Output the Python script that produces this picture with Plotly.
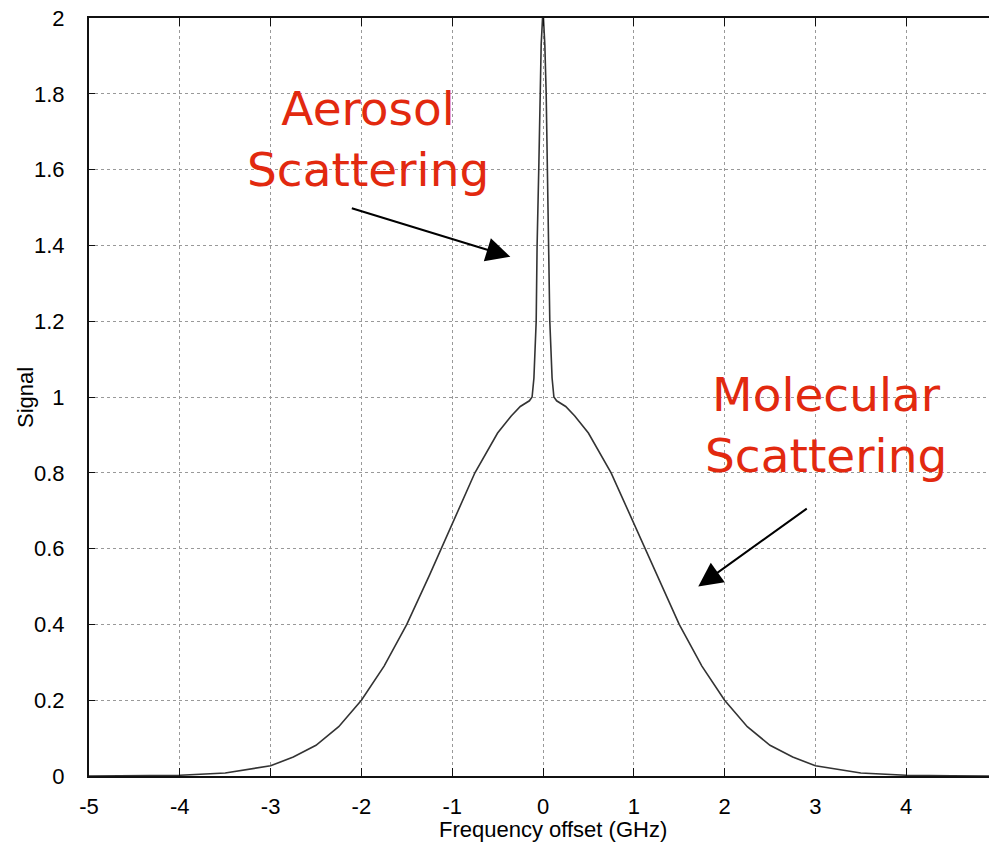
import plotly.graph_objects as go

# Frequency offset (GHz) and signal
freq_ghz = [-5.0, -4.5, -4.0, -3.5, -3.0, -2.75, -2.5, -2.25, -2.0, -1.75, -1.5, -1.25,
            -1.0, -0.75, -0.5, -0.35, -0.25, -0.15, -0.12, -0.10, -0.075, -0.065, -0.045,
            -0.035, -0.02, -0.005, 0.0,
            0.005, 0.02, 0.035, 0.045, 0.065, 0.075, 0.10, 0.12, 0.15, 0.25, 0.35, 0.5,
            0.75, 1.0, 1.25, 1.5, 1.75, 2.0, 2.25, 2.5, 2.75, 3.0, 3.5, 4.0, 4.5, 5.0]
signal = [0.0, 0.0005, 0.002, 0.008, 0.027, 0.05, 0.081, 0.13, 0.20, 0.29, 0.40, 0.53,
          0.667, 0.80, 0.905, 0.95, 0.975, 0.99, 1.0, 1.05, 1.20, 1.40, 1.62,
          1.80, 1.93, 2.0, 2.02,
          2.0, 1.93, 1.80, 1.62, 1.40, 1.20, 1.05, 1.0, 0.99, 0.975, 0.95, 0.905,
          0.80, 0.667, 0.53, 0.40, 0.29, 0.20, 0.13, 0.081, 0.05, 0.027, 0.008, 0.002, 0.0005, 0.0]

x_ticks = [-5, -4, -3, -2, -1, 0, 1, 2, 3, 4, 5]
x_tick_labels = ["-5", "-4", "-3", "-2", "-1", "0", "1", "2", "3", "4", "5"]
y_ticks = [0, 0.2, 0.4, 0.6, 0.8, 1.0, 1.2, 1.4, 1.6, 1.8, 2.0]
y_tick_labels = ["0", "0.2", "0.4", "0.6", "0.8", "1", "1.2", "1.4", "1.6", "1.8", "2"]

RED = "#e2290f"
TICK_FONT = dict(family="Liberation Sans, Arial, sans-serif", size=22, color="#000")
TITLE_FONT = dict(family="Liberation Sans, Arial, sans-serif", size=22, color="#000")
ANN_FONT = dict(family="Comic Sans MS, DejaVu Sans, sans-serif", size=47, color=RED)

fig = go.Figure()
fig.add_trace(go.Scatter(x=freq_ghz, y=signal, mode="lines",
                         line=dict(color="#333", width=1.6), showlegend=False,
                         hoverinfo="skip"))

# page body adds an 8px offset, so the figure is 8px smaller on each side
fig.update_layout(
    width=989, height=838,
    margin=dict(l=81, r=0, t=10, b=70, autoexpand=False),
    paper_bgcolor="white", plot_bgcolor="white",
    xaxis=dict(range=[-5, 5], tickvals=x_ticks, ticktext=x_tick_labels,
               ticks="inside", ticklen=8,
               tickcolor="#111", showline=True, linecolor="#111", linewidth=2,
               mirror="ticks", showgrid=True, gridcolor="#999", griddash="dot",
               gridwidth=1, zeroline=False, tickfont=TICK_FONT,
               ticklabelstandoff=10, automargin=False, ticklabeloverflow="allow"),
    yaxis=dict(range=[0, 2], tickvals=y_ticks, ticktext=y_tick_labels,
               ticks="inside", ticklen=6, tickcolor="#111",
               showline=True, linecolor="#111", linewidth=2,
               showgrid=True, gridcolor="#999", griddash="dot", gridwidth=1,
               zeroline=False, tickfont=TICK_FONT, ticklabelstandoff=18,
               automargin=False, ticklabeloverflow="allow"),
)

# Axis titles
fig.add_annotation(x=0.511, y=-0.07, xref="paper", yref="paper",
                   text="Frequency offset (GHz)", showarrow=False,
                   font=TITLE_FONT, xanchor="center", yanchor="middle")
fig.add_annotation(x=-0.0705, y=0.5, xref="paper", yref="paper",
                   text="Signal", showarrow=False, textangle=-90,
                   font=TITLE_FONT, xanchor="center", yanchor="middle")

# Text labels
fig.add_annotation(x=-1.925, y=1.68, xref="x", yref="y",
                   text="Aerosol<br>Scattering", showarrow=False,
                   font=ANN_FONT, align="center")
fig.add_annotation(x=3.12, y=0.925, xref="x", yref="y",
                   text="Molecular<br>Scattering", showarrow=False,
                   font=ANN_FONT, align="center")

# Arrows
fig.add_annotation(x=-0.36, y=1.37, xref="x", yref="y", ax=-160, ay=-49,
                   text="", showarrow=True, arrowhead=2, arrowsize=2.4,
                   arrowwidth=2, arrowcolor="black")
fig.add_annotation(x=1.71, y=0.50, xref="x", yref="y", ax=110, ay=-79,
                   text="", showarrow=True, arrowhead=2, arrowsize=2.4,
                   arrowwidth=2, arrowcolor="black")

fig.write_html("out.html")
